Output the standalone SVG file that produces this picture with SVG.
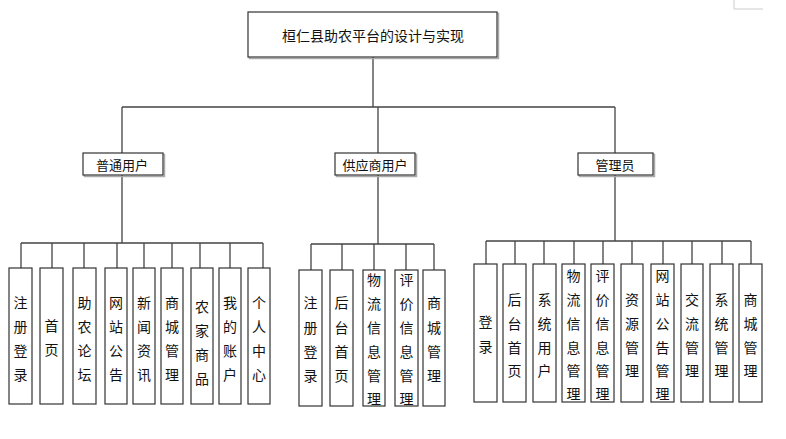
<svg xmlns="http://www.w3.org/2000/svg" width="786" height="439" viewBox="0 0 786 439">
<style>
.box{fill:#fff;stroke:#333;stroke-width:1.2}
.sh{fill:none;stroke:#aaa;stroke-width:1.5}
.ln{fill:none;stroke:#444;stroke-width:1.3}
text{font-family:"Noto Sans CJK SC","Noto Sans",sans-serif;fill:#111;text-anchor:middle;dominant-baseline:central}
.t1{font-size:14px}
.t2{font-size:13px}
.t3{font-size:14px}
</style>
<rect width="786" height="439" fill="#fff"/>
<path d="M734 0V9H763" fill="none" stroke="#ccc" stroke-width="1"/>
<g id="connectors" class="ln">
<path d="M373 57V107M122 107H615M122 107V153M378 107V153M615 107V153"/>
<path d="M122 175V243M21 243H263M21 243V268M52 243V268M84 243V268M117 243V268M144 243V268M172 243V268M200 243V268M230 243V268M263 243V268"/>
<path d="M378 175V244M311 244H434M311 244V270M342 244V270M374 244V270M406 244V270M434 244V270"/>
<path d="M615 175V241M486 241H751M486 241V264M515 241V264M544 241V264M574 241V264M603 241V264M632 241V264M663 241V264M692 241V264M722 241V264M751 241V264"/>
</g>
<g id="root"><rect class="sh" x="249.5" y="13.5" width="249" height="45"/><rect class="box" x="248" y="12" width="249" height="45"/><text class="t1" x="373" y="35">桓仁县助农平台的设计与实现</text></g>
<g id="n-user"><rect class="sh" x="84.5" y="154.5" width="80" height="22"/><rect class="box" x="83" y="153" width="80" height="22"/><text class="t2" x="122" y="164">普通用户</text></g>
<g id="n-supplier"><rect class="sh" x="336.5" y="154.5" width="80" height="22"/><rect class="box" x="335" y="153" width="80" height="22"/><text class="t2" x="375" y="164">供应商用户</text></g>
<g id="n-admin"><rect class="sh" x="579.5" y="154.5" width="75" height="22"/><rect class="box" x="578" y="153" width="75" height="22"/><text class="t2" x="615" y="164">管理员</text></g>

<g id="u1"><rect class="box" x="9" y="268" width="23" height="136"/><text class="t3" x="20.5"><tspan x="20.5" y="302">注</tspan><tspan x="20.5" y="326">册</tspan><tspan x="20.5" y="350">登</tspan><tspan x="20.5" y="374">录</tspan></text></g>
<g id="u2"><rect class="box" x="40" y="268" width="23" height="136"/><text class="t3"><tspan x="51.5" y="325">首</tspan><tspan x="51.5" y="349">页</tspan></text></g>
<g id="u3"><rect class="box" x="73" y="268" width="23" height="136"/><text class="t3"><tspan x="84.5" y="302">助</tspan><tspan x="84.5" y="326">农</tspan><tspan x="84.5" y="350">论</tspan><tspan x="84.5" y="374">坛</tspan></text></g>
<g id="u4"><rect class="box" x="105" y="268" width="22" height="136"/><text class="t3"><tspan x="116" y="302">网</tspan><tspan x="116" y="326">站</tspan><tspan x="116" y="350">公</tspan><tspan x="116" y="374">告</tspan></text></g>
<g id="u5"><rect class="box" x="133" y="268" width="22" height="136"/><text class="t3"><tspan x="144" y="302">新</tspan><tspan x="144" y="326">闻</tspan><tspan x="144" y="350">资</tspan><tspan x="144" y="374">讯</tspan></text></g>
<g id="u6"><rect class="box" x="161" y="268" width="22" height="136"/><text class="t3"><tspan x="172" y="302">商</tspan><tspan x="172" y="326">城</tspan><tspan x="172" y="350">管</tspan><tspan x="172" y="374">理</tspan></text></g>
<g id="u7"><rect class="box" x="191" y="268" width="22" height="136"/><text class="t3"><tspan x="202" y="306">农</tspan><tspan x="202" y="330">家</tspan><tspan x="202" y="354">商</tspan><tspan x="202" y="378">品</tspan></text></g>
<g id="u8"><rect class="box" x="219" y="268" width="22" height="136"/><text class="t3"><tspan x="230" y="302">我</tspan><tspan x="230" y="326">的</tspan><tspan x="230" y="350">账</tspan><tspan x="230" y="374">户</tspan></text></g>
<g id="u9"><rect class="box" x="248" y="268" width="22" height="136"/><text class="t3"><tspan x="259" y="302">个</tspan><tspan x="259" y="326">人</tspan><tspan x="259" y="350">中</tspan><tspan x="259" y="374">心</tspan></text></g>

<g id="s1"><rect class="box" x="299" y="270" width="23" height="136"/><text class="t3"><tspan x="310.5" y="302">注</tspan><tspan x="310.5" y="327">册</tspan><tspan x="310.5" y="351">登</tspan><tspan x="310.5" y="375">录</tspan></text></g>
<g id="s2"><rect class="box" x="330" y="270" width="23" height="136"/><text class="t3"><tspan x="341.5" y="302">后</tspan><tspan x="341.5" y="327">台</tspan><tspan x="341.5" y="351">首</tspan><tspan x="341.5" y="375">页</tspan></text></g>
<g id="s3"><rect class="box" x="363" y="270" width="22" height="136"/><text class="t3"><tspan x="374" y="279">物</tspan><tspan x="374" y="303">流</tspan><tspan x="374" y="327">信</tspan><tspan x="374" y="351">息</tspan><tspan x="374" y="375">管</tspan><tspan x="374" y="398">理</tspan></text></g>
<g id="s4"><rect class="box" x="395" y="270" width="23" height="136"/><text class="t3"><tspan x="406.5" y="279">评</tspan><tspan x="406.5" y="303">价</tspan><tspan x="406.5" y="327">信</tspan><tspan x="406.5" y="351">息</tspan><tspan x="406.5" y="375">管</tspan><tspan x="406.5" y="398">理</tspan></text></g>
<g id="s5"><rect class="box" x="423" y="270" width="22" height="136"/><text class="t3"><tspan x="434" y="302">商</tspan><tspan x="434" y="327">城</tspan><tspan x="434" y="351">管</tspan><tspan x="434" y="375">理</tspan></text></g>

<g id="a1"><rect class="box" x="474" y="264" width="23" height="138"/><text class="t3"><tspan x="485.5" y="321">登</tspan><tspan x="485.5" y="346">录</tspan></text></g>
<g id="a2"><rect class="box" x="503" y="264" width="23" height="138"/><text class="t3"><tspan x="514.5" y="299">后</tspan><tspan x="514.5" y="323">台</tspan><tspan x="514.5" y="347">首</tspan><tspan x="514.5" y="370">页</tspan></text></g>
<g id="a3"><rect class="box" x="533" y="264" width="23" height="138"/><text class="t3"><tspan x="544.5" y="299">系</tspan><tspan x="544.5" y="323">统</tspan><tspan x="544.5" y="347">用</tspan><tspan x="544.5" y="370">户</tspan></text></g>
<g id="a4"><rect class="box" x="562" y="264" width="23" height="138"/><text class="t3"><tspan x="573.5" y="275">物</tspan><tspan x="573.5" y="299">流</tspan><tspan x="573.5" y="323">信</tspan><tspan x="573.5" y="347">息</tspan><tspan x="573.5" y="370">管</tspan><tspan x="573.5" y="393">理</tspan></text></g>
<g id="a5"><rect class="box" x="591" y="264" width="23" height="138"/><text class="t3"><tspan x="602.5" y="275">评</tspan><tspan x="602.5" y="299">价</tspan><tspan x="602.5" y="323">信</tspan><tspan x="602.5" y="347">息</tspan><tspan x="602.5" y="370">管</tspan><tspan x="602.5" y="393">理</tspan></text></g>
<g id="a6"><rect class="box" x="621" y="264" width="22" height="138"/><text class="t3"><tspan x="632" y="299">资</tspan><tspan x="632" y="323">源</tspan><tspan x="632" y="347">管</tspan><tspan x="632" y="370">理</tspan></text></g>
<g id="a7"><rect class="box" x="651" y="264" width="23" height="138"/><text class="t3"><tspan x="662.5" y="275">网</tspan><tspan x="662.5" y="299">站</tspan><tspan x="662.5" y="323">公</tspan><tspan x="662.5" y="347">告</tspan><tspan x="662.5" y="370">管</tspan><tspan x="662.5" y="393">理</tspan></text></g>
<g id="a8"><rect class="box" x="681" y="264" width="22" height="138"/><text class="t3"><tspan x="692" y="299">交</tspan><tspan x="692" y="323">流</tspan><tspan x="692" y="347">管</tspan><tspan x="692" y="370">理</tspan></text></g>
<g id="a9"><rect class="box" x="710" y="264" width="23" height="138"/><text class="t3"><tspan x="721.5" y="299">系</tspan><tspan x="721.5" y="323">统</tspan><tspan x="721.5" y="347">管</tspan><tspan x="721.5" y="370">理</tspan></text></g>
<g id="a10"><rect class="box" x="739" y="264" width="23" height="138"/><text class="t3"><tspan x="750.5" y="299">商</tspan><tspan x="750.5" y="323">城</tspan><tspan x="750.5" y="347">管</tspan><tspan x="750.5" y="370">理</tspan></text></g>
</svg>
